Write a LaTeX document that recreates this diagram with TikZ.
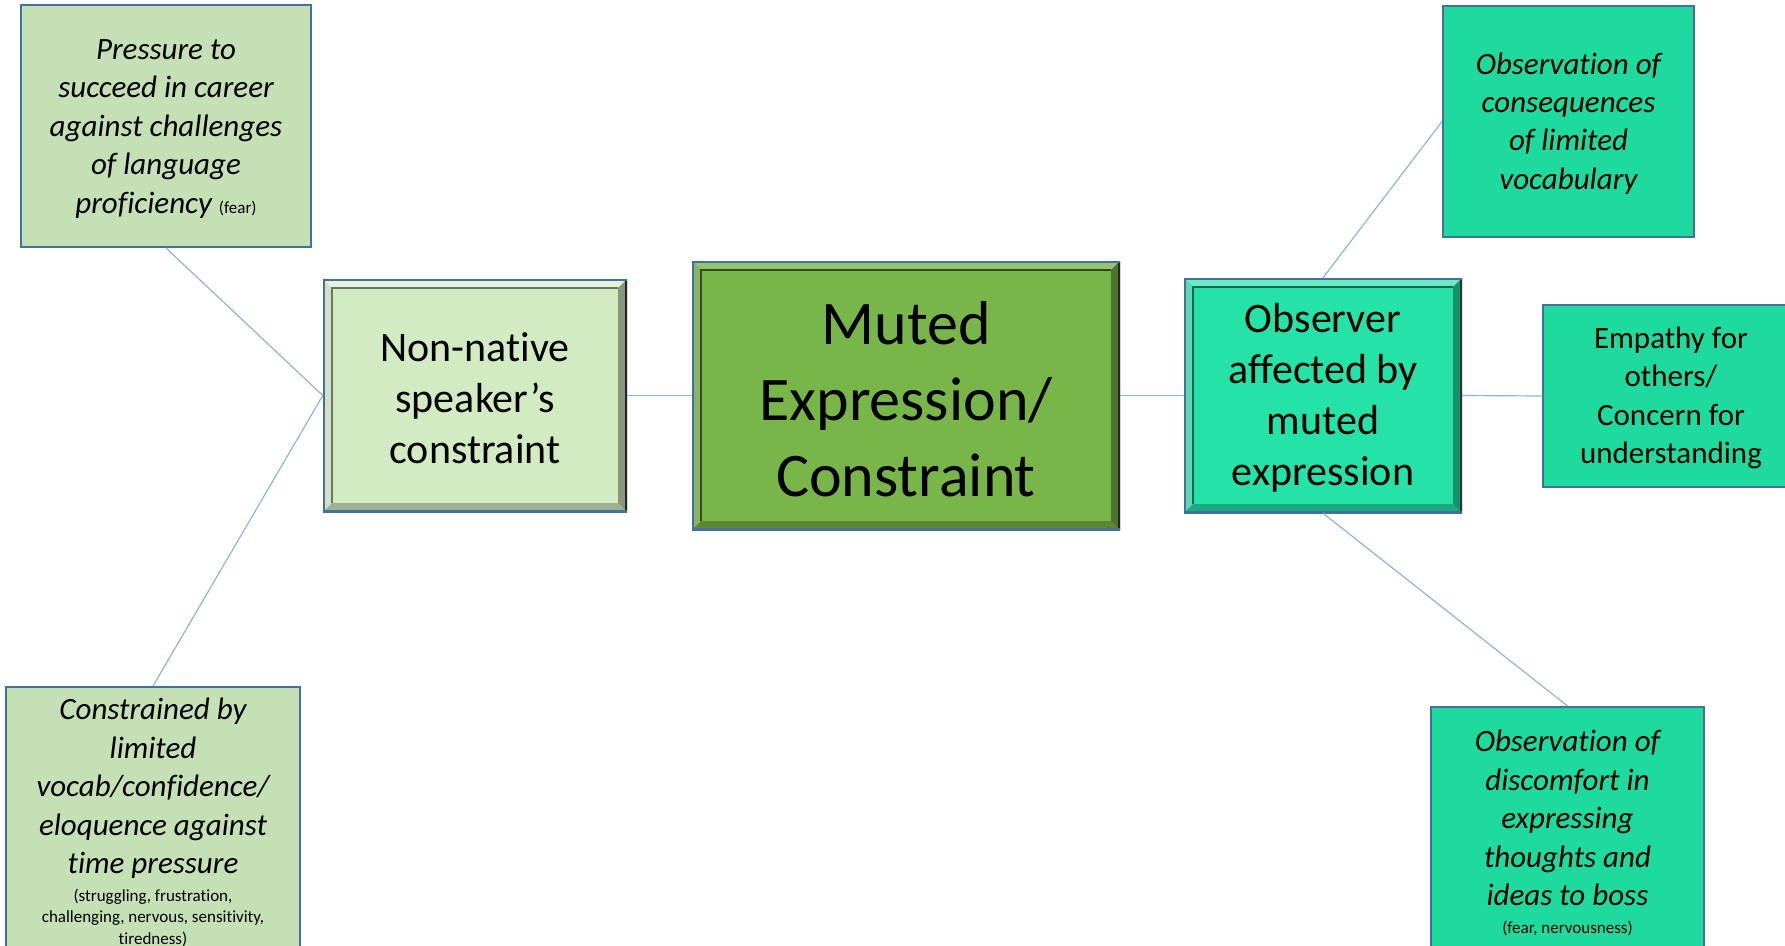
\documentclass[tikz,border=0pt]{standalone}
\usepackage{fontspec}
\setmainfont{Carlito}[Ligatures={NoCommon}]
\usetikzlibrary{calc}
\setlength\parindent{0pt}
\setlength\parskip{0pt}

\definecolor{edgeblue}{HTML}{41719C}
\definecolor{linkblue}{HTML}{8EB4E3}
\definecolor{sagegreen}{HTML}{C5E0B4}
\definecolor{palegreen}{HTML}{D3EBC2}
\definecolor{leafgreen}{HTML}{79B64A}
\definecolor{mintbright}{HTML}{25E2A8}
\definecolor{mint}{HTML}{1FDA9F}

% raised frame painted inside a node: light top/left, shaded bottom/right
\newcommand\bevelpaint[4]{%
  \path (path picture bounding box.north west) coordinate (bnw)
        (path picture bounding box.north east) coordinate (bne)
        (path picture bounding box.south west) coordinate (bsw)
        (path picture bounding box.south east) coordinate (bse);
  \fill[#1] (bnw) -- (bne) -- ($(bne)+(-9pt,-9pt)$) -- ($(bnw)+(9pt,-9pt)$) -- cycle;
  \fill[#1!92!black] (bnw) -- ($(bnw)+(9pt,-9pt)$) -- ($(bsw)+(9pt,9pt)$) -- (bsw) -- cycle;
  \fill[#2] (bsw) -- ($(bsw)+(9pt,9pt)$) -- ($(bse)+(-9pt,9pt)$) -- (bse) -- cycle;
  \fill[#2!85!black] (bse) -- ($(bse)+(-9pt,9pt)$) -- ($(bne)+(-9pt,-9pt)$) -- (bne) -- cycle;
  \draw[#3, line width=2.5pt] ($(bsw)+(9pt,9pt)$) -- ($(bnw)+(9pt,-9pt)$) -- ($(bne)+(-9pt,-9pt)$);
  \draw[#4, line width=5pt] (bne) -- (bse);
  \draw[edgeblue, line width=4pt] (bse) -- (bsw) -- (bnw) -- (bne);
}

\tikzset{
  link/.style={draw=linkblue, line width=1.2pt},
  lowered/.style={execute at begin node={\rule{0pt}{0.82em}}},
  smallbox/.style={draw=edgeblue, line width=2pt, inner sep=0pt, align=flush center, lowered,
    font=\fontsize{31}{38.4}\selectfont},
  idea/.style={smallbox, font=\itshape\fontsize{31}{38.4}\selectfont},
  bevelbox/.style n args={5}{fill=#1, draw=none, inner sep=0pt, align=flush center, lowered,
    path picture={\bevelpaint{#2}{#3}{#4}{#5}}},
}
\newcommand\aside[1]{{\upshape\fontsize{17}{21.6}\selectfont #1}}

\begin{document}
\begin{tikzpicture}[x=1pt, y=-1pt]
\useasboundingbox (0,0) rectangle (1785,945);
\fill[white] (0,0) rectangle (1785,945);
\clip (0,0) rectangle (1785,945);

% central theme
\node[bevelbox={leafgreen}{leafgreen!80!white}{leafgreen!75!black}{leafgreen!40!black}{black!85},
      minimum width=428, minimum height=269, text width=400,
      font=\fontsize{62}{76}\selectfont] (central) at (906,395.5)
  {Muted\\Expression/\\Constraint};

% left branch
\node[bevelbox={palegreen}{palegreen!60!white}{palegreen!75!black}{palegreen!50!black}{black!85},
      minimum width=304, minimum height=233, text width=260,
      font=\fontsize{42}{51}\selectfont] (speaker) at (475,395.5)
  {Non-native\\speaker’s\\constraint};

\node[idea, fill=sagegreen, minimum width=290, minimum height=242, text width=270]
  (pressure) at (166,126)
  {Pressure to\\succeed in career\\against challenges\\of language\\proficiency \aside{(fear)}};

\node[idea, fill=sagegreen, minimum width=294, minimum height=267, text width=280]
  (limited) at (153,820.5)
  {Constrained by\\limited\\vocab/confidence/\\eloquence against\\time pressure\par
   \vskip 6pt
   {\upshape\fontsize{17}{21.6}\selectfont (struggling, frustration,\\challenging, nervous, sensitivity,\\tiredness)\par}};

% right branch
\node[bevelbox={mintbright}{mintbright!70!white}{mintbright!75!black}{mintbright!45!black}{black!80},
      minimum width=278, minimum height=235, text width=260,
      font=\fontsize{42}{51}\selectfont] (observer) at (1323,395.5)
  {Observer\\affected by\\muted\\expression};

\node[idea, fill=mint, minimum width=251, minimum height=231, text width=230]
  (vocab) at (1568.5,121.5)
  {Observation of\\consequences\\of limited\\vocabulary};

\node[smallbox, fill=mint, minimum width=256, minimum height=182, text width=230]
  (empathy) at (1671,396)
  {Empathy for\\others/\\Concern for\\understanding};

\node[idea, fill=mint, minimum width=273, minimum height=248, text width=250]
  (discomfort) at (1567.5,831)
  {Observation of\\discomfort in\\expressing\\thoughts and\\ideas to boss\par
   \vskip 6pt
   {\upshape\fontsize{17}{21.6}\selectfont (fear, nervousness)\par}};

% connectors
\draw[link] (pressure.south) -- (speaker.west);
\draw[link] (limited.north) -- (speaker.west);
\draw[link] (speaker.east) -- (central.west);
\draw[link] (central.east) -- (observer.west);
\draw[link] (observer.north) -- (vocab.west);
\draw[link] (observer.east) -- (empathy.west);
\draw[link] (observer.south) -- (discomfort.north);
\end{tikzpicture}
\end{document}
